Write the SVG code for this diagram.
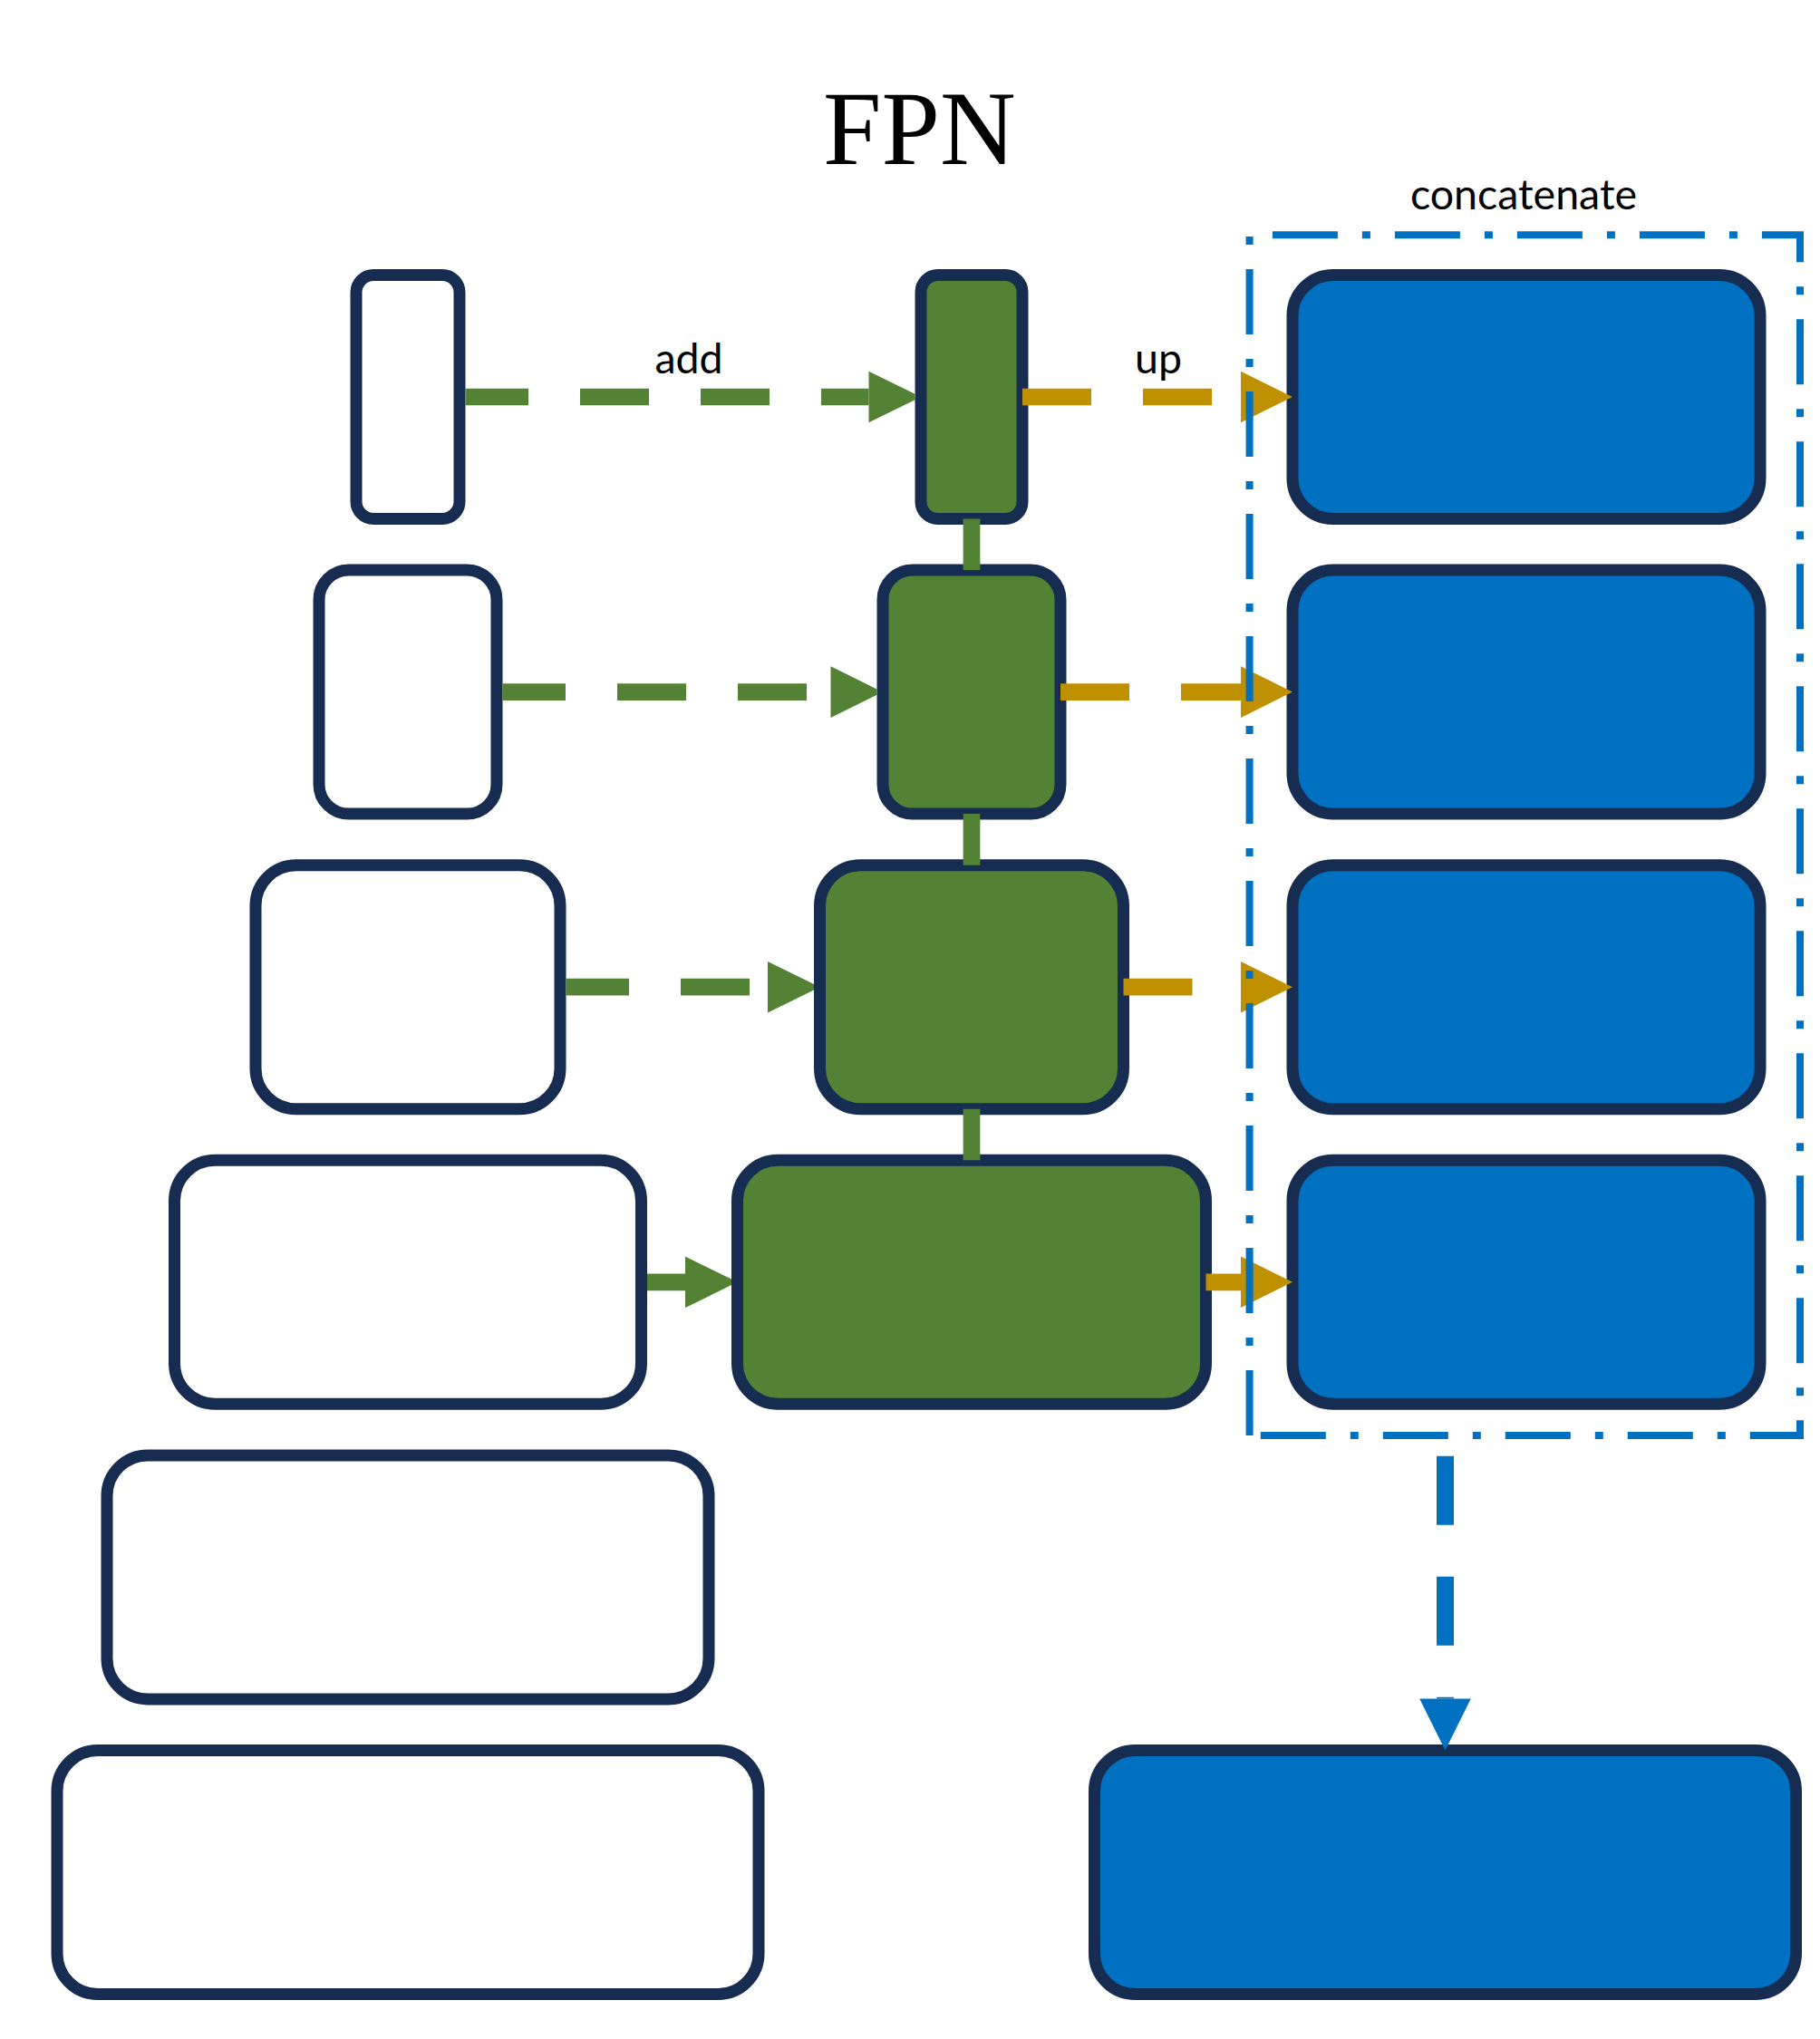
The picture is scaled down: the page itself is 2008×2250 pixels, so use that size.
<svg xmlns="http://www.w3.org/2000/svg" width="2008" height="2250" viewBox="0 0 2008 2250">
  <style>
    .box { stroke: #172C51; stroke-width: 13; }
    .plain { fill: #FFFFFF; }
    .green { fill: #548235; }
    .blue { fill: #0070C0; }
    .lbl { font-family: Lato, "Noto Sans", sans-serif; font-size: 46.5px; fill: #000000; text-anchor: middle; }
    .title { font-family: "Liberation Serif", "Times New Roman", serif; font-size: 116px; fill: #000000; text-anchor: middle; }
    .add { stroke: #548235; stroke-width: 18.7; fill: none; stroke-dasharray: 76 57; stroke-dashoffset: 6.5; marker-end: url(#headGreen); }
    .link { stroke: #548235; stroke-width: 18.7; fill: none; }
    .up { stroke: #BF9000; stroke-width: 18.7; fill: none; stroke-dasharray: 76 57; marker-end: url(#headGold); }
    .cat { stroke: #0070C0; stroke-width: 19; fill: none; stroke-dasharray: 76 57; marker-end: url(#headBlue); }
    .frame { stroke: #0070C0; stroke-width: 8; fill: none; stroke-dasharray: 72 27 9 27; stroke-linejoin: miter; }
  </style>
  <defs>
    <marker id="headGreen" markerUnits="userSpaceOnUse" markerWidth="52" markerHeight="57" refX="0" refY="28.3" orient="auto" overflow="visible">
      <polygon points="0,0 51,25.1 51,31.5 0,56.6" fill="#548235"/>
    </marker>
    <marker id="headGold" markerUnits="userSpaceOnUse" markerWidth="58" markerHeight="57" refX="0" refY="28.3" orient="auto" overflow="visible">
      <polygon points="0,0 57,28.3 0,56.6" fill="#BF9000"/>
    </marker>
    <marker id="headBlue" markerUnits="userSpaceOnUse" markerWidth="58" markerHeight="57" refX="0" refY="28.3" orient="auto" overflow="visible">
      <polygon points="0,0 57,28.3 0,56.6" fill="#0070C0"/>
    </marker>
  </defs>

  <rect width="2008" height="2250" fill="#FFFFFF"/>

  <text class="title" x="1014.5" y="181">FPN</text>

  <!-- backbone (left column) -->
  <g id="c1"><rect class="box plain" x="393" y="303.5" width="114" height="269" rx="19" ry="19"/></g>
  <g id="c2"><rect class="box plain" x="352" y="629.1" width="196" height="269" rx="32.7" ry="32.7"/></g>
  <g id="c3"><rect class="box plain" x="282" y="954.7" width="336" height="269" rx="44.8" ry="44.8"/></g>
  <g id="c4"><rect class="box plain" x="192.5" y="1280.3" width="515" height="269" rx="44.8" ry="44.8"/></g>
  <g id="c5"><rect class="box plain" x="118" y="1605.9" width="664" height="269" rx="44.8" ry="44.8"/></g>
  <g id="c6"><rect class="box plain" x="63" y="1931.5" width="774" height="269" rx="44.8" ry="44.8"/></g>

  <!-- FPN (middle column) -->
  <g id="p1"><rect class="box green" x="1016" y="303.5" width="112" height="269" rx="18.7" ry="18.7"/></g>
  <g id="p2"><rect class="box green" x="974" y="629.1" width="196" height="269" rx="32.7" ry="32.7"/></g>
  <g id="p3"><rect class="box green" x="904.5" y="954.7" width="335" height="269" rx="44.8" ry="44.8"/></g>
  <g id="p4"><rect class="box green" x="813.5" y="1280.3" width="517" height="269" rx="44.8" ry="44.8"/></g>

  <!-- upsampled (right column) -->
  <g id="u1"><rect class="box blue" x="1426" y="303.5" width="516" height="269" rx="44.8" ry="44.8"/></g>
  <g id="u2"><rect class="box blue" x="1426" y="629.1" width="516" height="269" rx="44.8" ry="44.8"/></g>
  <g id="u3"><rect class="box blue" x="1426" y="954.7" width="516" height="269" rx="44.8" ry="44.8"/></g>
  <g id="u4"><rect class="box blue" x="1426" y="1280.3" width="516" height="269" rx="44.8" ry="44.8"/></g>

  <!-- output -->
  <g id="out"><rect class="box blue" x="1207.5" y="1931.5" width="774" height="269" rx="44.8" ry="44.8"/></g>

  <!-- connectors -->
  <g id="connectors">
    <line class="add" x1="513.5" y1="438" x2="958.5" y2="438"/>
    <line class="add" x1="554.5" y1="763.6" x2="916.5" y2="763.6"/>
    <line class="add" x1="624.5" y1="1089.2" x2="847" y2="1089.2"/>
    <line class="add" x1="714" y1="1414.8" x2="756" y2="1414.8"/>

    <line class="link" x1="1072" y1="572.5" x2="1072" y2="629.1"/>
    <line class="link" x1="1072" y1="898.1" x2="1072" y2="954.7"/>
    <line class="link" x1="1072" y1="1223.7" x2="1072" y2="1280.3"/>

    <line class="up" x1="1128" y1="438" x2="1369" y2="438"/>
    <line class="up" x1="1170" y1="763.6" x2="1369" y2="763.6"/>
    <line class="up" x1="1239.5" y1="1089.2" x2="1369" y2="1089.2"/>
    <line class="up" x1="1330.5" y1="1414.8" x2="1369" y2="1414.8"/>

    <line class="cat" x1="1594.5" y1="1606.7" x2="1594.5" y2="1874.6"/>

    <text class="lbl" x="760" y="412">add</text>
    <text class="lbl" x="1278" y="412">up</text>
  </g>

  <!-- concatenate group frame -->
  <g id="concat">
    <path class="frame" d="M1378.6,1584 V259.3 H1986 V1584 Z"/>
    <text class="lbl" x="1681" y="230.7">concatenate</text>
  </g>
</svg>
